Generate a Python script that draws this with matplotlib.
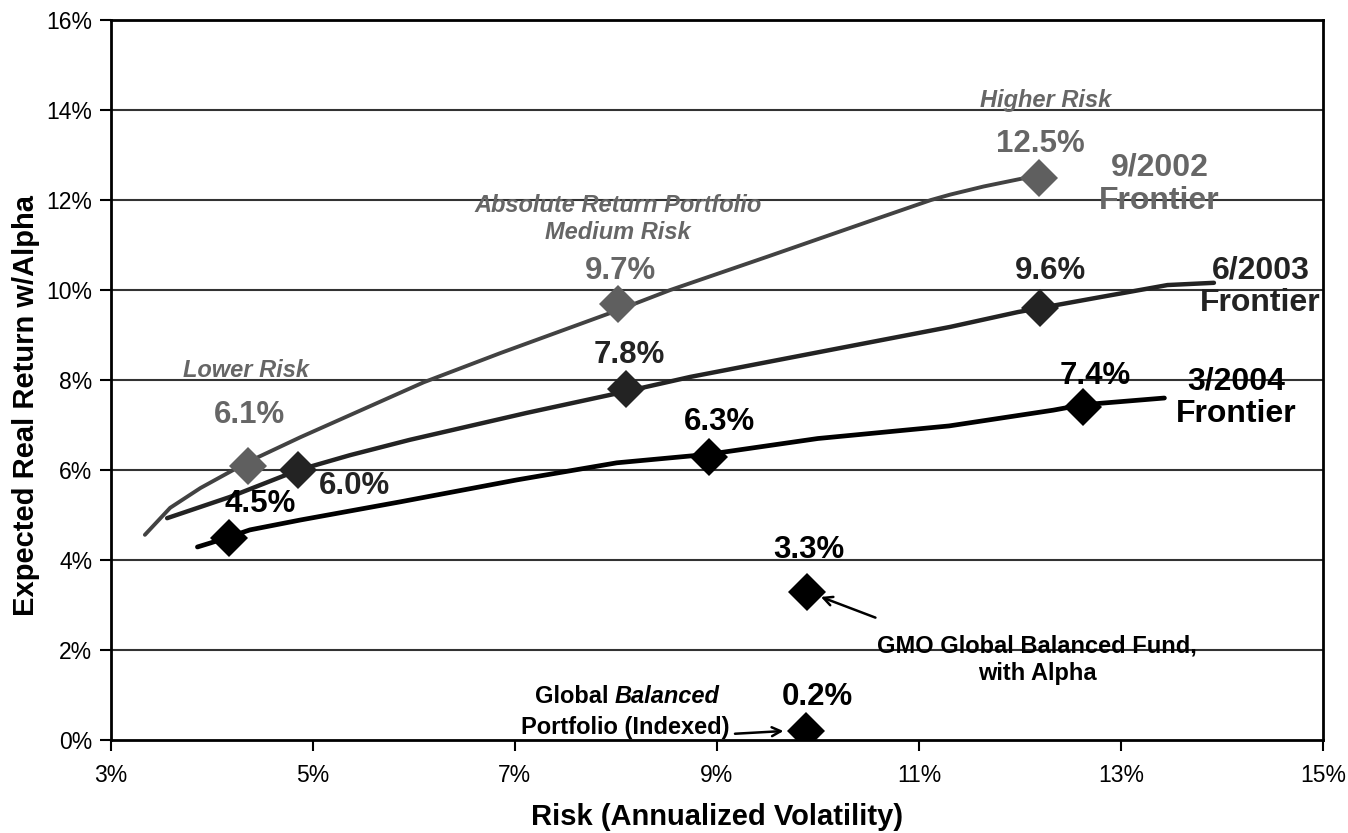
import matplotlib
matplotlib.use("Agg")
import matplotlib.pyplot as plt
from matplotlib.ticker import FuncFormatter

plt.rcParams['font.family'] = ['Liberation Sans', 'DejaVu Sans']

# Efficient frontier curves (risk %, expected real return %)
f2002_risk = [3.34, 3.59, 3.89, 4.36, 4.88, 5.50, 6.10, 6.86, 8.02, 8.54, 9.50, 10.50, 11.12, 11.31, 11.64, 12.03, 12.19]
f2002_ret = [4.56, 5.16, 5.60, 6.18, 6.73, 7.35, 7.95, 8.60, 9.55, 10.00, 10.74, 11.52, 12.00, 12.12, 12.30, 12.48, 12.55]

f2003_risk = [3.56, 4.18, 4.86, 5.37, 5.96, 7.12, 8.11, 8.74, 10.22, 11.31, 11.98, 12.20, 12.79, 13.46, 13.92]
f2003_ret = [4.93, 5.40, 6.00, 6.33, 6.67, 7.27, 7.75, 8.07, 8.71, 9.18, 9.51, 9.60, 9.84, 10.11, 10.16]

f2004_risk = [3.86, 3.99, 4.17, 4.38, 4.88, 5.86, 7.02, 8.01, 8.92, 10.00, 11.30, 12.33, 12.62, 13.43]
f2004_ret = [4.29, 4.38, 4.51, 4.67, 4.89, 5.29, 5.78, 6.16, 6.35, 6.70, 6.98, 7.33, 7.45, 7.60]

# Highlighted portfolios (lower / medium / higher risk)
p2002_risk = [4.36, 8.02, 12.19]
p2002_ret = [6.1, 9.7, 12.5]
p2003_risk = [4.86, 8.10, 12.20]
p2003_ret = [6.0, 7.8, 9.6]
p2004_risk = [4.17, 8.92, 12.62]
p2004_ret = [4.5, 6.3, 7.4]

# Single funds
gmo_risk, gmo_ret = 9.89, 3.3
idx_risk, idx_ret = 9.88, 0.2

x_ticks = [3, 5, 7, 9, 11, 13, 15]
y_ticks = [0, 2, 4, 6, 8, 10, 12, 14, 16]

GRAY = '#5f5f5f'
GRAY_TXT = '#666666'
DARK = '#232323'
BLACK = '#000000'

fig = plt.figure(figsize=(13.48, 8.33), dpi=100)
ax = fig.add_axes([0.082, 0.1116, 0.8995, 0.8644])

ax.set_xlim(3, 15)
ax.set_ylim(0, 16)
ax.set_xticks(x_ticks)
ax.set_yticks(y_ticks)
pct = FuncFormatter(lambda v, p: f"{v:.0f}%")
ax.xaxis.set_major_formatter(pct)
ax.yaxis.set_major_formatter(pct)
ax.tick_params(axis='both', labelsize=16.5, length=8, width=1.5, direction='out', pad=5)
ax.tick_params(axis='x', pad=9)

for y in y_ticks[1:]:
    ax.axhline(y, color='#333333', lw=1.5, zorder=1)
for s in ax.spines.values():
    s.set_linewidth(2)
    s.set_color('black')

ax.set_xlabel('Risk (Annualized Volatility)', fontsize=21, fontweight='bold')
ax.set_ylabel('Expected Real Return w/Alpha', fontsize=21, fontweight='bold')
ax.xaxis.set_label_coords(0.5, -0.088)
ax.yaxis.set_label_coords(-0.058, 0.465)

# Frontier lines
ax.plot(f2002_risk, f2002_ret, color='#424242', lw=2.8, zorder=3, solid_capstyle='round')
ax.plot(f2003_risk, f2003_ret, color=DARK, lw=3.2, zorder=3, solid_capstyle='round')
ax.plot(f2004_risk, f2004_ret, color=BLACK, lw=3.4, zorder=3, solid_capstyle='round')

ms = 19
ax.plot(p2002_risk, p2002_ret, 'D', color=GRAY, ms=ms, mew=0, zorder=4)
ax.plot(p2003_risk, p2003_ret, 'D', color=DARK, ms=ms, mew=0, zorder=4)
ax.plot(p2004_risk, p2004_ret, 'D', color=BLACK, ms=ms, mew=0, zorder=4)
ax.plot([gmo_risk, idx_risk], [gmo_ret, idx_ret], 'D', color=BLACK, ms=ms, mew=0, zorder=4)

val_kw = dict(fontsize=22.5, fontweight='bold', ha='center', va='center', zorder=5)

# 9/2002 frontier labels
for yr, (tx, ty) in zip(p2002_ret, [(4.38, 7.22), (8.05, 10.42), (12.2, 13.24)]):
    ax.text(tx, ty, f"{yr:.1f}%", color=GRAY_TXT, **val_kw)
# 6/2003 frontier labels
for yr, (tx, ty) in zip(p2003_ret, [(5.41, 5.64), (8.13, 8.56), (12.3, 10.42)]):
    ax.text(tx, ty, f"{yr:.1f}%", color=DARK, **val_kw)
# 3/2004 frontier labels
for yr, (tx, ty) in zip(p2004_ret, [(4.48, 5.24), (9.03, 7.07), (12.75, 8.1)]):
    ax.text(tx, ty, f"{yr:.1f}%", color=BLACK, **val_kw)

ax.text(9.91, 4.22, f"{gmo_ret:.1f}%", color=BLACK, **val_kw)
ax.text(10.0, 0.96, f"{idx_ret:.1f}%", color=BLACK, **val_kw)

# Frontier names
name_kw = dict(fontsize=23, fontweight='bold', ha='center', va='center', linespacing=1.12, zorder=5)
ax.text(13.38, 12.35, "9/2002\nFrontier", color=GRAY_TXT, **name_kw)
ax.text(14.38, 10.08, "6/2003\nFrontier", color=DARK, **name_kw)
ax.text(14.14, 7.6, "3/2004\nFrontier", color=BLACK, **name_kw)

# Risk level captions
cap_kw = dict(fontsize=17, fontweight='bold', style='italic', color=GRAY_TXT,
              ha='center', va='center', zorder=5, linespacing=1.25)
ax.text(4.34, 8.22, "Lower Risk", **cap_kw)
ax.text(8.02, 11.58, "Absolute Return Portfolio\nMedium Risk", **cap_kw)
ax.text(12.25, 14.2, "Higher Risk", **cap_kw)

# Fund callouts
note_kw = dict(fontsize=17, fontweight='bold', va='center', zorder=5)
ax.text(12.17, 1.78, "GMO Global Balanced Fund,\nwith Alpha", ha='center', linespacing=1.25, **note_kw)
ax.annotate("", xy=(10.03, 3.18), xytext=(10.57, 2.72),
            arrowprops=dict(arrowstyle='->', color='black', lw=1.8, shrinkA=0, shrinkB=0,
                            mutation_scale=16), zorder=5)

ax.text(7.99, 0.97, "Global ", ha='right', **note_kw)
ax.text(7.99, 0.97, "Balanced", ha='left', style='italic', **note_kw)
ax.text(8.09, 0.28, "Portfolio (Indexed)", ha='center', **note_kw)
ax.annotate("", xy=(9.66, 0.2), xytext=(9.18, 0.14),
            arrowprops=dict(arrowstyle='->', color='black', lw=1.8, shrinkA=0, shrinkB=0,
                            mutation_scale=16), zorder=5)

fig.savefig("out.png", dpi=100)
